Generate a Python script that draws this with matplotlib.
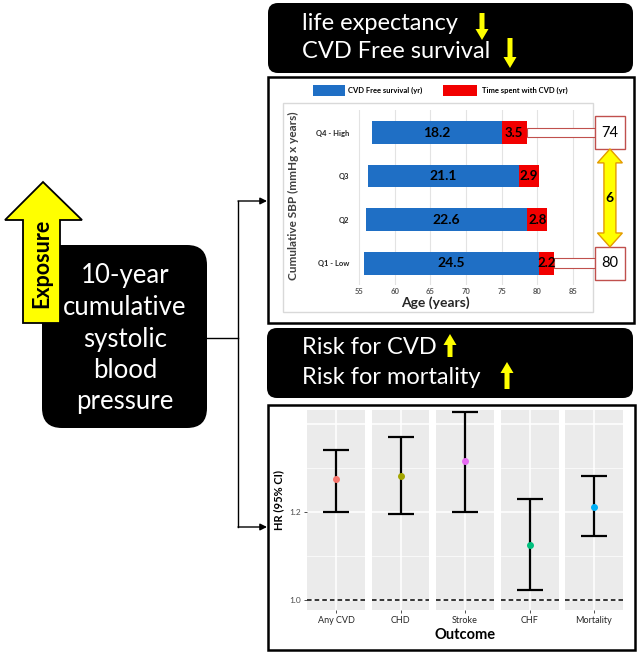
import matplotlib
matplotlib.use("Agg")
import matplotlib.pyplot as plt
from matplotlib.patches import FancyBboxPatch, Rectangle, Polygon

plt.rcParams['font.family'] = ['Lato', 'DejaVu Sans']

W, H = 640, 653

# bar chart: years of life by quartile of cumulative SBP
groups = ["Q1 - Low", "Q2", "Q3", "Q4 - High"]
start_age = [55.7, 56.0, 56.3, 56.8]
cvd_free = [24.5, 22.6, 21.1, 18.2]
with_cvd = [2.2, 2.8, 2.9, 3.5]
life_groups = ["Q1 - Low", "Q4 - High"]
life_exp = [80, 74]
age_ticks = [55, 60, 65, 70, 75, 80, 85]

# hazard ratios per outcome
outcomes = ["Any CVD", "CHD", "Stroke", "CHF", "Mortality"]
hr = [1.275, 1.282, 1.316, 1.125, 1.211]
hr_lo = [1.200, 1.195, 1.200, 1.023, 1.145]
hr_hi = [1.341, 1.370, 1.427, 1.230, 1.282]
point_colors = ["#F8766D", "#A3A500", "#E76BF3", "#00BF7D", "#00B0F6"]
hr_ticks = [1.0, 1.2]

blue = "#1F6FC5"
red = "#F20000"

fig = plt.figure(figsize=(6.4, 6.53), dpi=100)


def px_axes(x0, y0, x1, y1, **kw):
    return fig.add_axes([x0 / W, 1 - y1 / H, (x1 - x0) / W, (y1 - y0) / H], **kw)


bg = px_axes(0, 0, W, H)
bg.set_xlim(0, W)
bg.set_ylim(H, 0)
bg.axis("off")


def black_box(x0, y0, x1, y1, r):
    bg.add_patch(FancyBboxPatch((x0 + r, y0 + r), x1 - x0 - 2 * r, y1 - y0 - 2 * r,
                                boxstyle=f"round,pad={r}", fc="black", ec="black", lw=0))


def v_arrow(x, y_tip, y_tail, shaft=2.5, head=6.5, head_len=11, fc="#FFFF00", ec="none", lw=0):
    s = 1 if y_tail > y_tip else -1
    yb = y_tip + s * head_len
    pts = [(x - shaft, y_tail), (x - shaft, yb), (x - head, yb), (x, y_tip),
           (x + head, yb), (x + shaft, yb), (x + shaft, y_tail)]
    bg.add_patch(Polygon(pts, closed=True, fc=fc, ec=ec, lw=lw, zorder=5))


# top and middle black headers
black_box(268, 3, 633, 73, 10)
bg.text(302, 23, "life expectancy", color="white", fontsize=17, va="center")
bg.text(302, 52, "CVD Free survival", color="white", fontsize=17, va="center")
v_arrow(482, 40, 13)
v_arrow(510, 68, 38)

black_box(267, 328, 633, 398, 10)
bg.text(302, 347, "Risk for CVD", color="white", fontsize=17, va="center")
bg.text(302, 377, "Risk for mortality", color="white", fontsize=17, va="center")
v_arrow(450, 334, 357)
v_arrow(507, 362, 389)

# left exposure box
black_box(42, 245, 207, 428, 20)
for i, line in enumerate(["10-year", "cumulative", "systolic", "blood", "pressure"]):
    bg.text(125, 276 + i * 31.5, line, color="white", fontsize=18.5, ha="center", va="center")
bg.add_patch(Polygon([(23, 323), (23, 220), (5, 220), (43, 182), (82, 220), (60, 220), (60, 323)],
                     closed=True, fc="#FFFF00", ec="black", lw=1.3, zorder=5))
bg.text(42, 263, "Exposure", rotation=90, fontsize=15.5, fontweight="bold",
        ha="center", va="center", zorder=6)

# connector lines
bg.plot([207, 238], [338, 338], color="black", lw=1)
bg.plot([238, 238], [201, 527], color="black", lw=1)
for yy in (201, 527):
    bg.annotate("", xy=(267, yy), xytext=(238, yy),
                arrowprops=dict(arrowstyle="-|>", lw=1, color="black",
                                mutation_scale=10, shrinkA=0, shrinkB=0))

# panel frames
bg.add_patch(Rectangle((268, 77), 366, 246, fill=False, ec="black", lw=1.8))
bg.add_patch(Rectangle((268, 405), 367, 245, fill=False, ec="black", lw=1.8))
bg.add_patch(Rectangle((283, 103), 310, 209, fill=False, ec="#D9D9D9", lw=1))

# legend of the bar chart
bg.add_patch(Rectangle((313, 85), 32, 11, fc=blue, ec="none"))
bg.text(348, 90.5, "CVD Free survival (yr)", fontsize=5.5, fontweight="bold", va="center")
bg.add_patch(Rectangle((443, 85), 34, 11, fc=red, ec="none"))
bg.text(482, 90.5, "Time spent with CVD (yr)", fontsize=5.5, fontweight="bold", va="center")

bg.text(293, 196, "Cumulative SBP (mmHg x years)", rotation=90, fontsize=8.5,
        fontweight="bold", color="#404040", ha="center", va="center")
bg.text(435, 303, "Age (years)", fontsize=10, fontweight="bold", color="#262626",
        ha="center", va="center")

# bar chart
ax = px_axes(352, 110, 580, 285)
ax.set_facecolor("none")
ypos = list(range(len(groups)))
ends = [s + a for s, a in zip(start_age, cvd_free)]
ax.barh(ypos, cvd_free, left=start_age, height=0.52, color=blue, zorder=3)
ax.barh(ypos, with_cvd, left=ends, height=0.52, color=red, zorder=3)
for y, s, a, b in zip(ypos, start_age, cvd_free, with_cvd):
    ax.text(s + a / 2, y, f"{a}", ha="center", va="center", fontsize=10, fontweight="bold", zorder=4)
    ax.text(s + a + b / 2, y, f"{b}", ha="center", va="center", fontsize=9.5, fontweight="bold", zorder=4)
ax.set_xlim(54, 86)
ax.set_ylim(-0.5, 3.52)
ax.set_xticks(age_ticks)
ax.set_xticklabels([str(t) for t in age_ticks], fontsize=5.5, fontweight="bold", color="#595959")
ax.set_yticks(ypos)
ax.set_yticklabels(groups, fontsize=5.5, fontweight="bold", color="#262626")
ax.tick_params(length=0, pad=2)
ax.grid(axis="x", color="#E3E3E3", lw=0.8, zorder=0)
for sp in ax.spines.values():
    sp.set_visible(False)

# life expectancy boxes and the double arrow between them
box_x, box_w = 88.1, 4.2
for g, le in zip(life_groups, life_exp):
    i = groups.index(g)
    end = start_age[i] + cvd_free[i] + with_cvd[i]
    ax.add_patch(Rectangle((end, i - 0.11), box_x - end, 0.22, fc="white", ec="#C0504D",
                           lw=0.8, clip_on=False, zorder=3))
    ax.add_patch(Rectangle((box_x, i - 0.375), box_w, 0.75, fc="white", ec="#C0504D",
                           lw=1, clip_on=False, zorder=4))
    ax.text(box_x + box_w / 2, i, str(le), ha="center", va="center", fontsize=10.5, zorder=5)

cx = box_x + box_w / 2
y_top = groups.index(life_groups[1]) - 0.375
y_bot = groups.index(life_groups[0]) + 0.375
sw, hw, hl = 0.84, 1.75, 0.32
arrow_pts = [(cx - sw, y_bot + hl), (cx - hw, y_bot + hl), (cx, y_bot), (cx + hw, y_bot + hl),
             (cx + sw, y_bot + hl), (cx + sw, y_top - hl), (cx + hw, y_top - hl), (cx, y_top),
             (cx - hw, y_top - hl), (cx - sw, y_top - hl)]
ax.add_patch(Polygon(arrow_pts, closed=True, fc="#FFFF00", ec="#E39B00", lw=1, clip_on=False, zorder=4))
ax.text(cx, (y_top + y_bot) / 2, str(life_exp[0] - life_exp[1]), ha="center", va="center",
        fontsize=10, fontweight="bold", zorder=5)

# hazard ratio facets
for k, name in enumerate(outcomes):
    x0 = 307 + k * 64.5
    fa = px_axes(x0, 410, x0 + 58, 610)
    fa.set_facecolor("#EBEBEB")
    fa.set_xlim(-1, 1)
    fa.set_ylim(0.977, 1.432)
    for v in (1.1, 1.3):
        fa.axhline(v, color="white", lw=0.5, zorder=0)
    for v in (1.0, 1.2, 1.4):
        fa.axhline(v, color="white", lw=1.1, zorder=0)
    fa.axvline(0, color="white", lw=1.1, zorder=0)
    fa.axhline(1.0, color="black", lw=1.1, ls=(0, (3, 2)), zorder=1)
    fa.errorbar([0], [hr[k]], yerr=[[hr[k] - hr_lo[k]], [hr_hi[k] - hr[k]]], fmt="none",
                ecolor="black", elinewidth=1.6, capsize=9.5, capthick=1.6, zorder=2)
    fa.plot([0], [hr[k]], "o", color=point_colors[k], ms=4, zorder=3)
    fa.set_xticks([0])
    fa.set_xticklabels([name], fontsize=6.5, color="#262626")
    fa.set_yticks(hr_ticks)
    fa.set_yticklabels([f"{t:.1f}" for t in hr_ticks], fontsize=6, color="#4D4D4D")
    fa.tick_params(length=2, width=0.6, color="#333333", pad=2)
    if k > 0:
        fa.tick_params(axis="y", left=False, labelleft=False)
    for sp in fa.spines.values():
        sp.set_visible(False)

bg.text(279, 500, "HR (95% CI)", rotation=90, fontsize=8, fontweight="bold",
        ha="center", va="center")
bg.text(465, 635, "Outcome", fontsize=10.5, fontweight="bold", ha="center", va="center")

fig.savefig("out.png", dpi=100)
